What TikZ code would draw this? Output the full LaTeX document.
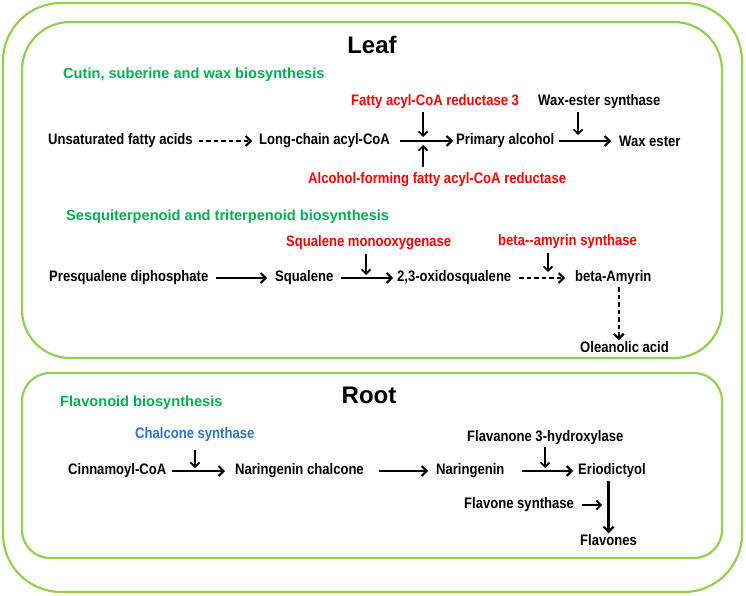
\documentclass[tikz,border=0pt]{standalone}
\usepackage{fontspec}
\setmainfont{Liberation Sans}[FakeStretch=0.86]
\newfontfamily\titlefont{Liberation Sans}
\usetikzlibrary{positioning,arrows.meta}
\definecolor{boxgreen}{RGB}{146,208,80}
\definecolor{pwgreen}{RGB}{0,176,80}
\definecolor{enzred}{RGB}{255,0,0}
\definecolor{enzblue}{RGB}{46,117,200}
\tikzset{
    % compartment frames
    frame/.style={
        draw=boxgreen,
        line width=2.2pt,
    },
    % compartment title
    organ/.style={
        font=\titlefont\fontsize{24}{26}\selectfont\bfseries,
        inner sep=0pt,
    },
    % metabolite
    met/.style={
        font=\fontsize{15.2}{17}\selectfont\bfseries,
        inner sep=1pt,
        anchor=west,
    },
    % pathway name
    pathway/.style={
        met,
        font=\titlefont\fontsize{14.6}{17}\selectfont\bfseries,
        text=pwgreen,
    },
    % enzyme (red / blue / black)
    enz/.style={
        met,
        text=enzred,
    },
    % reaction
    rxn/.style={
        line width=2pt,
        -{Straight Barb[length=5pt,width=10pt]},
    },
    rxndash/.style={
        rxn,
        dash pattern=on 4.5pt off 3pt,
    },
    % catalysis arrow
    cat/.style={
        line width=1.6pt,
        -{Straight Barb[length=4.5pt,width=9pt]},
    },
}

\begin{document}
\begin{tikzpicture}[x=1pt,y=-1pt]
    \useasboundingbox (0,0) rectangle (746,596);
%FRAMES_BEGIN%
    \draw[frame, rounded corners=58pt] (3,3) rectangle (742,592);
    \draw[frame, rounded corners=48pt] (22,22) rectangle (722,358);
    \draw[frame, rounded corners=28pt] (22,373) rectangle (722,558);
%FRAMES_END%

%LEAF_BEGIN%
    \node[organ] (leaf) at (372,45) {Leaf};
    \node[pathway] (cutin) at (62,75) {Cutin, suberine and wax biosynthesis};
    \node[enz] (far) at (350,102) {Fatty acyl-CoA reductase 3};
    \node[enz,text=black] (wes) at (537,102) {Wax-ester synthase};
    \node[met] (ufa) at (47,141) {Unsaturated fatty acids};
    \node[met] (lca) at (258,141) {Long-chain acyl-CoA};
    \node[met] (pal) at (455,141) {Primary alcohol};
    \node[met] (wax) at (618,141) {Wax ester};
    \node[enz] (afr) at (307,180) {Alcohol-forming fatty acyl-CoA reductase};
    \draw[rxndash, shorten <=5pt, shorten >=6pt] (ufa) -- (lca);
    \draw[rxn, shorten <=9pt, shorten >=2pt] (lca) -- (pal);
    \draw[rxn, shorten <=4pt, shorten >=7pt] (pal) -- (wax);
    % enzymes on the arrows
    \coordinate (k1) at (423,137);
    \coordinate (k2) at (423,145);
    \coordinate (k3) at (578,135);
    \draw[cat, shorten <=2pt] (far.south -| k1) -- (k1);
    \draw[cat, shorten <=5pt] (afr.north -| k2) -- (k2);
    \draw[cat, shorten <=2pt] (wes.south -| k3) -- (k3);

    \node[pathway] (sesq) at (65,217) {Sesquiterpenoid and triterpenoid biosynthesis};
    \node[enz] (sqm) at (285,243) {Squalene monooxygenase};
    \node[enz] (bas) at (497,242) {beta-{}-amyrin synthase};
    \node[met] (psd) at (48,278) {Presqualene diphosphate};
    \node[met] (sql) at (274,278) {Squalene};
    \node[met] (oxs) at (396,278) {2,3-oxidosqualene};
    \node[met] (bam) at (574,278) {beta-Amyrin};
    \node[met] (ola) at (579,347) {Oleanolic acid};
    \draw[rxn, shorten <=7pt, shorten >=7pt] (psd) -- (sql);
    \draw[rxn, shorten <=6pt, shorten >=3pt] (sql) -- (oxs);
    \draw[rxndash, shorten <=7pt, shorten >=9pt] (oxs) -- (bam);
    \draw[rxndash, line width=2.2pt, shorten <=1pt] ([xshift=5.5pt]bam.south) -- ([xshift=5.5pt]bam.south |- ola.north);
    \coordinate (k4) at (366,275);
    \coordinate (k5) at (548,272);
    \draw[cat, shorten <=3pt] (sqm.south -| k4) -- (k4);
    \draw[cat, shorten <=3pt] (bas.south -| k5) -- (k5);
%LEAF_END%

%ROOT_BEGIN%
    \node[organ] (root) at (369,395) {Root};
    \node[pathway] (flav) at (59,403) {Flavonoid biosynthesis};
    \node[enz,text=enzblue] (chs) at (134,435) {Chalcone synthase};
    \node[enz,text=black] (f3h) at (466,438) {Flavanone 3-hydroxylase};
    \node[met] (cin) at (67,471) {Cinnamoyl-CoA};
    \node[met] (nch) at (234,471) {Naringenin chalcone};
    \node[met] (nar) at (435,471) {Naringenin};
    \node[met] (eri) at (577,471) {Eriodictyol};
    \node[met] (fls) at (463,505) {Flavone synthase};
    \node[met] (fvs) at (579,540) {Flavones};
    \draw[rxn, shorten <=5pt, shorten >=9pt] (cin) -- (nch);
    \draw[rxn, shorten <=14pt, shorten >=7pt] (nch) -- (nar);
    \draw[rxn, shorten <=16pt, shorten >=4pt] (nar) -- (eri);
    \draw[rxn, line width=2.2pt, shorten <=2pt] (eri.south -| fvs.north) -- (fvs.north);
    \coordinate (k6) at (195,468);
    \coordinate (k7) at (545,468);
    \coordinate (k8) at (602,505);
    \draw[cat, shorten <=7pt] (chs.south -| k6) -- (k6);
    \draw[cat, shorten <=1pt] (f3h.south -| k7) -- (k7);
    \draw[cat, shorten <=7pt] (fls.east) -- (k8);
%ROOT_END%
\end{tikzpicture}
\end{document}
